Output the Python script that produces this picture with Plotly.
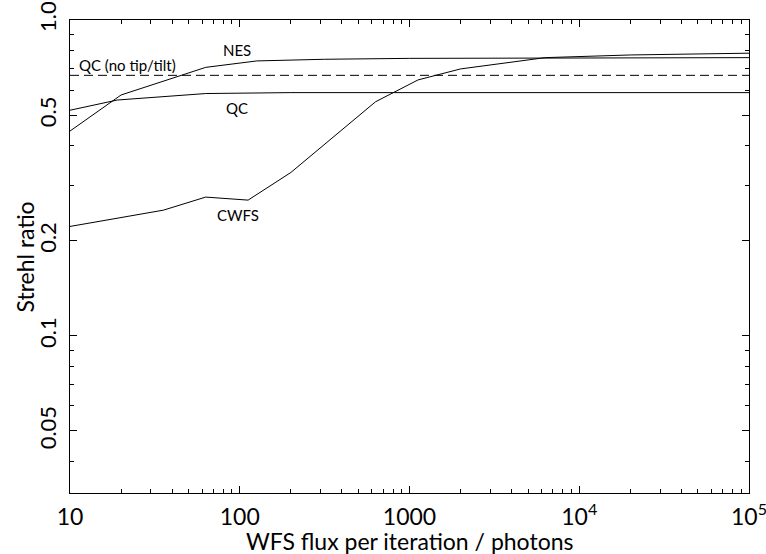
import plotly.graph_objects as go
import numpy as np

# Data
nes_x = [10, 20, 63, 126, 316, 1000, 100000]
nes_y = [0.445, 0.579, 0.708, 0.742, 0.751, 0.756, 0.760]

qc_x = [10, 19, 63, 200, 100000]
qc_y = [0.518, 0.558, 0.585, 0.589, 0.589]

qcntt_x = [10, 100000]
qcntt_y = [0.668, 0.668]

cwfs_x = [10, 35.5, 63, 112, 200, 355, 631, 1122, 2000, 6310, 20000, 100000]
cwfs_y = [0.222, 0.250, 0.275, 0.269, 0.329, 0.425, 0.551, 0.646, 0.700, 0.760, 0.775, 0.785]

x_tickvals = [10, 100, 1000, 10000, 99999]
x_ticktext = ["10", "100", "1000", "10<sup>4</sup>", "10<sup>5</sup>"]
y_tickvals = [0.05, 0.1, 0.2, 0.5, 0.99999]
y_ticktext = ["0.05", "0.1", "0.2", "0.5", "1.0"]
y_minor = [0.04, 0.06, 0.07, 0.08, 0.09, 0.3, 0.4, 0.6, 0.7, 0.8, 0.9]
x_minor = [m * 10 ** d for d in range(1, 5) for m in range(2, 10)]

labels = [
    ("NES", 96, 0.804),
    ("QC (no tip/tilt)", 21.8, 0.72),
    ("QC", 96, 0.527),
    ("CWFS", 97, 0.241),
]

x_title = "WFS flux per iteration / photons"
y_title = "Strehl ratio"

FONT = "Lato"
line_style = dict(color="black", width=1)

fig = go.Figure()
fig.add_trace(go.Scatter(x=nes_x, y=nes_y, mode="lines", line=line_style, showlegend=False))
fig.add_trace(go.Scatter(x=qc_x, y=qc_y, mode="lines", line=line_style, showlegend=False))
fig.add_trace(go.Scatter(x=qcntt_x, y=qcntt_y, mode="lines",
                         line=dict(color="black", width=1, dash="9px,5px"), showlegend=False))
fig.add_trace(go.Scatter(x=cwfs_x, y=cwfs_y, mode="lines", line=line_style, showlegend=False))

for txt, lx, ly in labels:
    fig.add_annotation(x=np.log10(lx), y=np.log10(ly), text=txt, showarrow=False,
                       xref="x", yref="y", font=dict(family=FONT, size=15, color="black"))

# axis titles placed as annotations for exact positioning
fig.add_annotation(x=0.5, y=-0.1015, xref="paper", yref="paper", text=x_title,
                   showarrow=False, xanchor="center", yanchor="middle",
                   font=dict(family=FONT, size=23, color="black"))
fig.add_annotation(x=-0.0663, y=0.5, xref="paper", yref="paper", text=y_title,
                   showarrow=False, xanchor="center", yanchor="middle", textangle=-90,
                   font=dict(family=FONT, size=23, color="black"))

fig.update_xaxes(
    type="log", range=[1, 5],
    tickmode="array", tickvals=x_tickvals, ticktext=x_ticktext,
    ticks="inside", ticklen=7, tickcolor="black", tickwidth=1,
    showline=True, linecolor="black", linewidth=1, mirror="ticks",
    showgrid=False, zeroline=False,
    tickfont=dict(family=FONT, size=23, color="black"),
    ticklabelstandoff=3,
    ticklabeloverflow="allow",
    minor=dict(tickmode="array", tickvals=x_minor, ticks="inside", ticklen=4,
               tickcolor="black", tickwidth=1, showgrid=False),
)
fig.update_yaxes(
    type="log", range=[np.log10(0.0318), 0],
    tickmode="array", tickvals=y_tickvals, ticktext=y_ticktext, tickangle=-90,
    ticks="inside", ticklen=7, tickcolor="black", tickwidth=1,
    showline=True, linecolor="black", linewidth=1, mirror="ticks",
    showgrid=False, zeroline=False,
    tickfont=dict(family=FONT, size=22, color="black"),
    ticklabelstandoff=4,
    ticklabeloverflow="allow",
    minor=dict(tickmode="array", tickvals=y_minor, ticks="inside", ticklen=4,
               tickcolor="black", tickwidth=1, showgrid=False),
)

fig.update_layout(
    width=766, height=554,
    margin=dict(l=70, r=17, t=20, b=61, autoexpand=False),
    paper_bgcolor="white", plot_bgcolor="white",
)

fig.write_html("out.html")
